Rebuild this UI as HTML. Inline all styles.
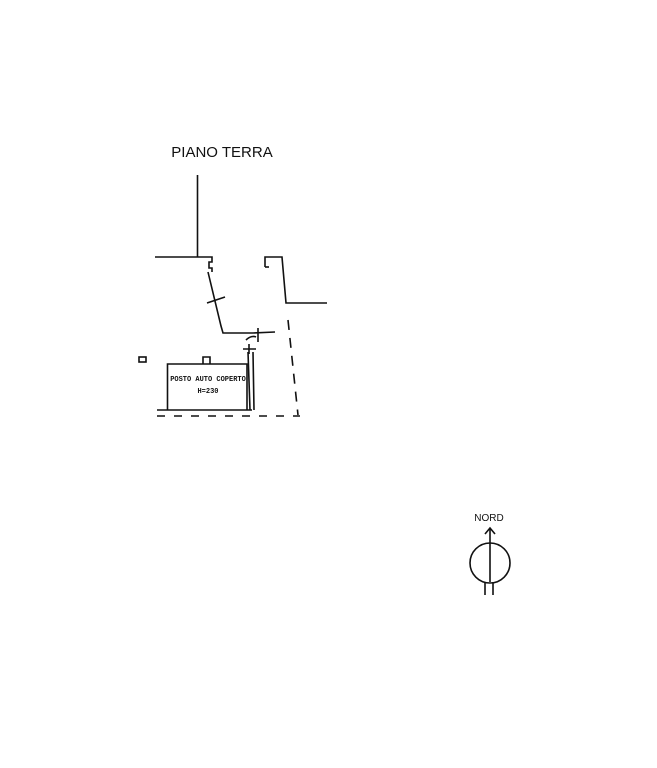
<!DOCTYPE html>
<html><head><meta charset="utf-8"><style>
html,body{margin:0;padding:0;background:#fff;}
svg{display:block;}
</style></head><body>
<svg width="657" height="768" viewBox="0 0 657 768" xmlns="http://www.w3.org/2000/svg">
<g fill="none" stroke="#111" stroke-width="1.6">
<path d="M197.5 175 V257"/>
<path d="M155 257 H212 V262 H209 V268 H212 V272"/>
<path d="M208 272 L221 326 L223 333 H253"/>
<path d="M253 333 L275 332"/>
<path d="M258 328 V342"/>
<path d="M207 303 L225 297"/>
<path d="M246 340 C250 336 254 336 256 337"/>
<path d="M243 349 H256 M249 344 V354"/>
<path d="M265 267 V257 H282 L286 303 H327"/>
<path d="M265 267 H269"/>
<path d="M288 320 L298 415" stroke-dasharray="10,8"/>
<path d="M157 416 H300" stroke-dasharray="8,9"/>
<path d="M167.5 410 V364 H247 V410"/>
<path d="M157 410 H252"/>
<path d="M248 352 L250 410 M253 352 L254 410"/>
<path d="M203 364 V357 H210 V364"/>
<rect x="139" y="357" width="7" height="5"/>
<circle cx="490" cy="563" r="20"/>
<path d="M490 528 V582 M485 534 L490 528 L495 534"/>
<path d="M485 582 V595 M493 582 V595"/>
</g>
<text x="222" y="157" font-family="Liberation Sans, sans-serif" font-size="15" text-anchor="middle" fill="#111">PIANO TERRA</text>
<text x="208" y="381" font-family="Liberation Mono, monospace" font-size="7" font-weight="bold" text-anchor="middle" fill="#111">POSTO AUTO COPERTO</text>
<text x="208" y="393" font-family="Liberation Mono, monospace" font-size="7" font-weight="bold" text-anchor="middle" fill="#111">H=230</text>
<text x="489" y="521" font-family="Liberation Sans, sans-serif" font-size="10" text-anchor="middle" fill="#111">NORD</text>
</svg>
</body></html>
